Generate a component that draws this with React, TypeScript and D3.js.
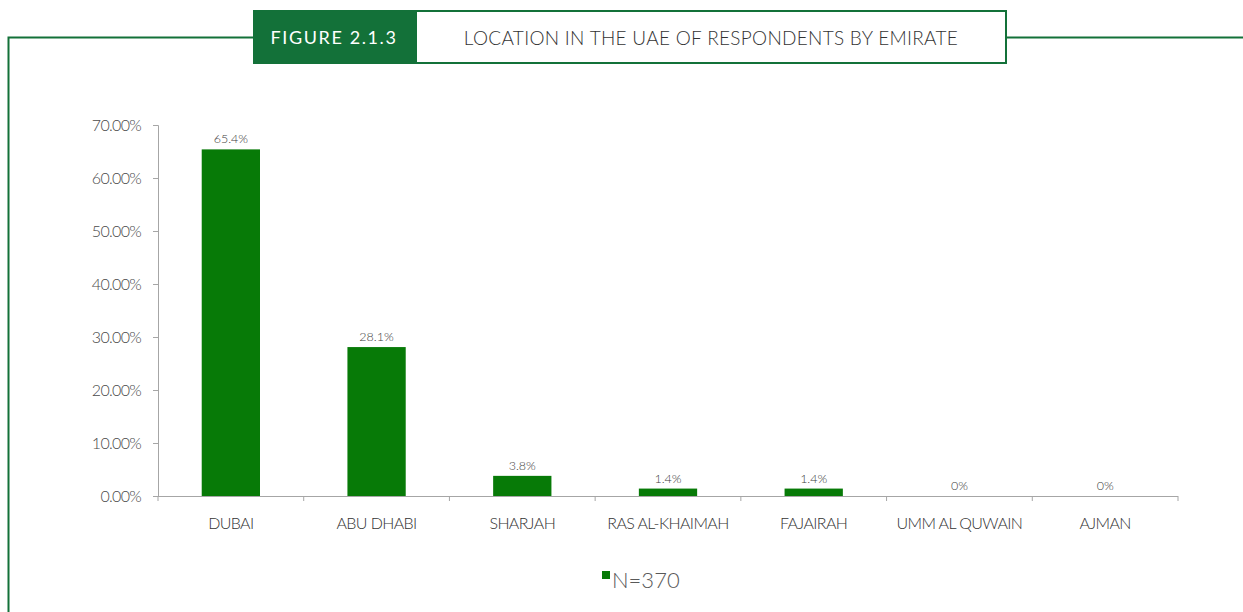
import { useEffect, useRef } from 'react';
import * as d3 from 'd3';

const categories = ['DUBAI', 'ABU DHABI', 'SHARJAH', 'RAS AL-KHAIMAH', 'FAJAIRAH', 'UMM AL QUWAIN', 'AJMAN'];
const values = [65.4, 28.1, 3.8, 1.4, 1.4, 0, 0];
const valueLabels = ['65.4%', '28.1%', '3.8%', '1.4%', '1.4%', '0%', '0%'];
const yTicks = [0, 10, 20, 30, 40, 50, 60, 70];
const seriesName = 'N=370';

const W = 1243;
const H = 612;
const FRAME = '#137139';
const BAR = '#077a07';
const FONT = 'Lato, "Open Sans", sans-serif';

function App() {
  const svgRef = useRef<SVGSVGElement>(null);

  useEffect(() => {
    const svg = d3.select(svgRef.current);
    svg.selectAll('*').remove();

    // frame and header
    svg.append('path')
      .attr('d', `M253,37.5 H8.5 V612 M1007,37.5 H1243`)
      .attr('fill', 'none')
      .attr('stroke', FRAME)
      .attr('stroke-width', 2);
    svg.append('rect').attr('x', 253).attr('y', 10).attr('width', 162).attr('height', 54).attr('fill', FRAME);
    svg.append('rect').attr('x', 416).attr('y', 11).attr('width', 590).attr('height', 52)
      .attr('fill', '#fff').attr('stroke', FRAME).attr('stroke-width', 2);
    svg.append('text').attr('x', 334).attr('y', 44).attr('text-anchor', 'middle')
      .attr('fill', '#fff').style('font-family', FONT).style('font-size', '18px')
      .style('letter-spacing', '1.6px').text('FIGURE 2.1.3');
    svg.append('text').attr('x', 711).attr('y', 45).attr('text-anchor', 'middle')
      .attr('fill', '#333').style('font-family', FONT).style('font-weight', 300)
      .style('font-size', '19px').style('letter-spacing', '0.3px')
      .text('LOCATION IN THE UAE OF RESPONDENTS BY EMIRATE');

    const x = d3.scaleBand().domain(categories).range([158, 1178]).paddingInner(0.6).paddingOuter(0.3);
    const y = d3.scaleLinear().domain([0, 70]).range([496, 125]);
    const step = x.step();

    // y axis
    const yAxis = svg.append('g').attr('transform', 'translate(158,0)')
      .call(d3.axisLeft(y).tickValues(yTicks).tickSize(5).tickPadding(12).tickFormat(d => `${(+d).toFixed(2)}%`));
    yAxis.select('.domain').attr('stroke', '#a6a6a6');
    yAxis.selectAll('.tick line').attr('stroke', '#a6a6a6');
    yAxis.selectAll('text').attr('fill', '#4a4a4a').style('font-family', FONT).style('font-size', '16px')
      .style('font-weight', 300).style('letter-spacing', '-0.7px');

    // x axis line and ticks at band boundaries
    svg.append('line').attr('x1', 158).attr('x2', 1178).attr('y1', 496.5).attr('y2', 496.5).attr('stroke', '#a6a6a6');
    const bounds = d3.range(categories.length + 1).map(i => 158 + i * step);
    svg.append('g').selectAll('line').data(bounds).join('line')
      .attr('x1', d => d).attr('x2', d => d).attr('y1', 496).attr('y2', 501).attr('stroke', '#a6a6a6');
    svg.append('g').selectAll('text').data(categories).join('text')
      .attr('x', d => (x(d) as number) + x.bandwidth() / 2).attr('y', 529)
      .attr('text-anchor', 'middle').attr('fill', '#333')
      .style('font-family', FONT).style('font-size', '16px').style('font-weight', 300)
      .style('letter-spacing', '-0.6px')
      .text(d => d);

    // bars
    svg.append('g').selectAll('rect').data(values).join('rect')
      .attr('x', (_, i) => x(categories[i]) as number)
      .attr('y', d => y(d))
      .attr('width', x.bandwidth())
      .attr('height', d => y(0) - y(d))
      .attr('fill', BAR);

    svg.append('g').selectAll('text').data(values).join('text')
      .attr('x', (_, i) => (x(categories[i]) as number) + x.bandwidth() / 2)
      .attr('y', d => y(d) - 6)
      .attr('text-anchor', 'middle').attr('fill', '#404040')
      .style('font-family', FONT).style('font-size', '12.5px').style('font-weight', 300)
      .text((_, i) => valueLabels[i]);

    // legend
    svg.append('rect').attr('x', 602).attr('y', 571).attr('width', 8).attr('height', 8).attr('fill', BAR);
    svg.append('text').attr('x', 612).attr('y', 588).attr('fill', '#595959')
      .style('font-family', FONT).style('font-size', '22px').style('font-weight', 300).text(seriesName);
  }, []);

  return (
    <svg ref={svgRef} width={W} height={H} style={{ position: 'absolute', left: 0, top: 0, background: '#fff' }} />
  );
}

export default App;
